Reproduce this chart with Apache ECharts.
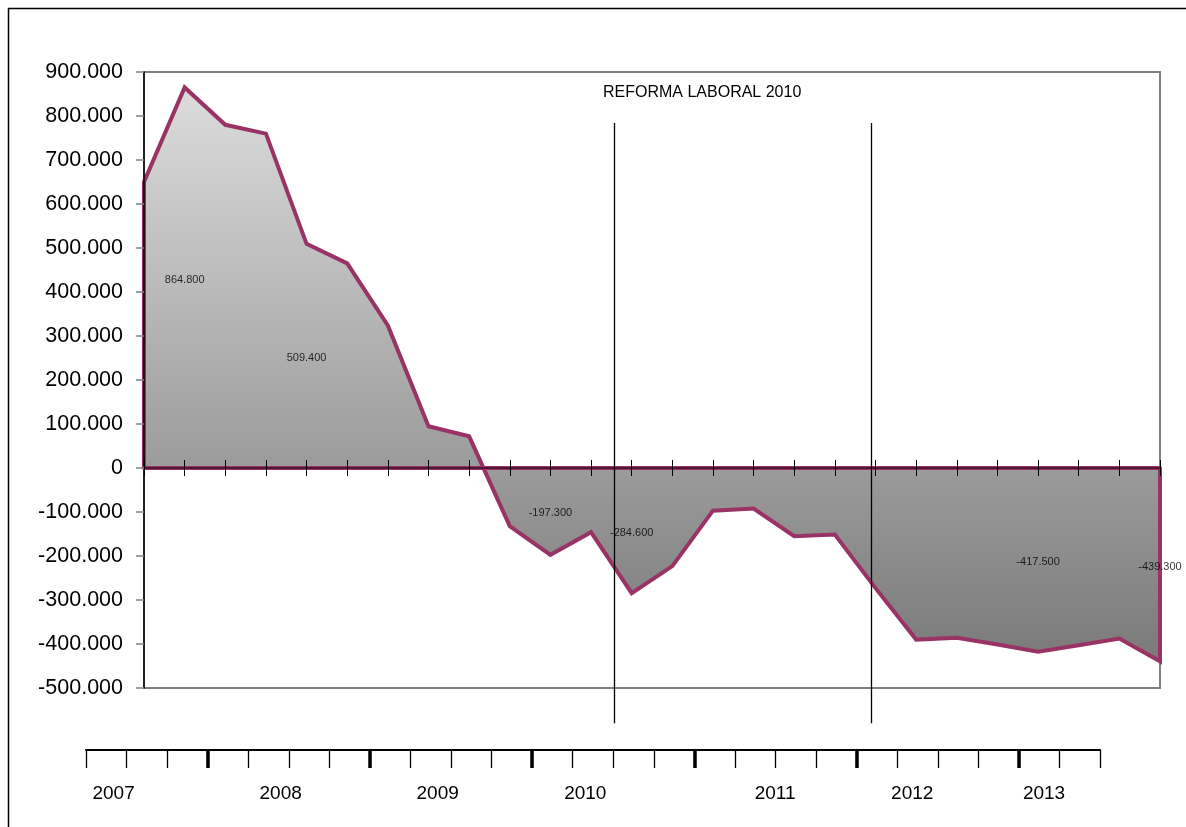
<!DOCTYPE html>
<html><head><meta charset="utf-8">
<script src="https://cdn.jsdelivr.net/npm/echarts@6/dist/echarts.min.js"></script>
<style>html,body{margin:0;padding:0;background:#fff}#c{width:1186px;height:827px}</style>
</head><body><div id="c"></div>
<script>
// ---- data ----
const periods = ['2007-II','2007-III','2007-IV','2008-I','2008-II','2008-III','2008-IV',
  '2009-I','2009-II','2009-III','2009-IV','2010-I','2010-II','2010-III','2010-IV',
  '2011-I','2011-II','2011-III','2011-IV','2012-I','2012-II','2012-III','2012-IV',
  '2013-I','2013-II','2013-III'];
const values = [650000, 864800, 780000, 760000, 509400, 465000, 324000, 95000, 72000,
  -132000, -197300, -146000, -284600, -223000, -97000, -92000, -155000, -151000,
  -273000, -390000, -386000, -401000, -417500, -403000, -387500, -439300];
const labeledIdx = [1, 4, 10, 12, 22, 25];
const yMin = -500000, yMax = 900000, yStep = 100000;
const years = ['2007','2008','2009','2010','2011','2012','2013'];
const yearLabelAt = [0.68, 4.8, 8.67, 12.31, 16.99, 20.37, 23.62];
const yearStartTicks = [3, 7, 11, 15, 19, 23];
const reformAt = [11.57, 17.9];
const reformSpan = [784000, -580000];
const reformTitle = 'REFORMA LABORAL 2010';

const FONT = '"Liberation Sans", Arial, Helvetica, sans-serif';
function fmt(v){
  const s = Math.abs(Math.round(v)).toString().replace(/\B(?=(\d{3})+(?!\d))/g, '.');
  return (v < 0 ? '-' : '') + s;
}
const n = values.length;
const lastIdx = n - 1;
const areaData = [[0, 0]].concat(values.map((v, i) => [i, v])).concat([[lastIdx, 0]]);
const allTicks = values.map((v, i) => i);

const chart = echarts.init(document.getElementById('c'), null, {renderer: 'canvas'});
chart.setOption({
  animation: false,
  backgroundColor: '#fff',
  grid: [
    {left: 144, top: 72, width: 1016, height: 616, show: true, borderColor: '#808080', borderWidth: 2, backgroundColor: 'transparent'},
    {left: 86, top: 749, width: 1014, height: 1, show: false}
  ],
  xAxis: [
    {type: 'value', gridIndex: 0, min: 0, max: lastIdx, interval: 1, position: 'bottom', z: 3,
      axisLine: {show: true, onZero: true, onZeroAxisIndex: 0, lineStyle: {color: '#993366', width: 4}},
      axisTick: {show: true, length: 8, lineStyle: {color: '#000', width: 1}},
      axisLabel: {show: false}, splitLine: {show: false}},
    {type: 'value', gridIndex: 0, min: 0, max: lastIdx, interval: 1, position: 'top', z: 3,
      axisLine: {show: true, onZero: true, onZeroAxisIndex: 2, lineStyle: {color: '#3a0f24', width: 1.5}},
      axisTick: {show: true, length: 8, lineStyle: {color: '#000', width: 1}},
      axisLabel: {show: false}, splitLine: {show: false}},
    {type: 'value', gridIndex: 1, min: 0, max: lastIdx, position: 'bottom',
      axisLine: {show: true, onZero: false, lineStyle: {color: '#000', width: 2}},
      axisTick: {show: true, customValues: allTicks, length: 18, lineStyle: {color: '#000', width: 1.3}},
      axisLabel: {show: true, customValues: yearLabelAt, margin: 34, fontSize: 19, color: '#000', fontFamily: FONT,
        formatter: function (v) {
          let best = 0;
          yearLabelAt.forEach((p, i) => { if (Math.abs(p - v) < Math.abs(yearLabelAt[best] - v)) best = i; });
          return years[best];
        }},
      splitLine: {show: false}},
    {type: 'value', gridIndex: 1, min: 0, max: lastIdx, position: 'bottom',
      axisLine: {show: false, onZero: false},
      axisTick: {show: true, customValues: yearStartTicks, length: 18, lineStyle: {color: '#000', width: 3.5}},
      axisLabel: {show: false}, splitLine: {show: false}}
  ],
  yAxis: [
    {type: 'value', gridIndex: 0, min: yMin, max: yMax, interval: yStep, z: 3,
      axisLine: {show: true, onZero: false, lineStyle: {color: '#000', width: 1.5}},
      axisTick: {show: true, length: 8, lineStyle: {color: '#808080', width: 1.5}},
      axisLabel: {fontSize: 21.5, color: '#000', margin: 21, fontFamily: FONT, formatter: fmt},
      splitLine: {show: false}},
    {type: 'value', gridIndex: 1, show: false},
    {type: 'value', gridIndex: 0, min: yMin, max: yMax, interval: yStep, position: 'right',
      axisLine: {show: false, onZero: false}, axisTick: {show: false}, axisLabel: {show: false}, splitLine: {show: false}}
  ],
  series: [
    {type: 'line', name: 'Variación', xAxisIndex: 0, yAxisIndex: 0, data: areaData,
      symbol: 'none', showSymbol: false, z: 2,
      lineStyle: {color: '#993366', width: 4, join: 'miter'},
      areaStyle: {opacity: 1, color: {type: 'linear', x: 0, y: 0, x2: 0, y2: 1,
        colorStops: [{offset: 0, color: '#dcdcdc'}, {offset: 1, color: '#7a7a7a'}]}}},
    {type: 'scatter', name: 'Etiquetas', xAxisIndex: 0, yAxisIndex: 0, z: 5,
      symbol: 'circle', symbolSize: 1, itemStyle: {color: 'rgba(0,0,0,0)'}, silent: true,
      data: labeledIdx.map(i => ({value: [i, values[i] / 2], label: {formatter: fmt(values[i])}})),
      label: {show: true, position: 'inside', offset: [0, 2], fontSize: 11, color: '#000', fontFamily: FONT}}
  ]
});

const g = [
  {id: 'frame', type: 'rect', shape: {x: 8.5, y: 8.5, width: 1400, height: 1000},
    style: {fill: 'none', stroke: '#000', lineWidth: 1.5}, z: 10, silent: true},
  {id: 'title', type: 'text', x: 603, y: 92.5, z: 10,
    style: {text: reformTitle, font: '16px ' + FONT, fill: '#000', textAlign: 'left', textVerticalAlign: 'middle', align: 'left', verticalAlign: 'middle'}}
];
reformAt.forEach((x, k) => {
  const p1 = chart.convertToPixel({xAxisIndex: 0, yAxisIndex: 0}, [x, reformSpan[0]]);
  const p2 = chart.convertToPixel({xAxisIndex: 0, yAxisIndex: 0}, [x, reformSpan[1]]);
  const px = Math.round(p1[0]) + 0.5;
  g.push({id: 'reform' + k, type: 'line', z: 10, silent: true,
    shape: {x1: px, y1: p1[1], x2: px, y2: p2[1]},
    style: {stroke: '#000', lineWidth: 1.3}});
});
chart.setOption({graphic: g});
</script>
</body></html>
